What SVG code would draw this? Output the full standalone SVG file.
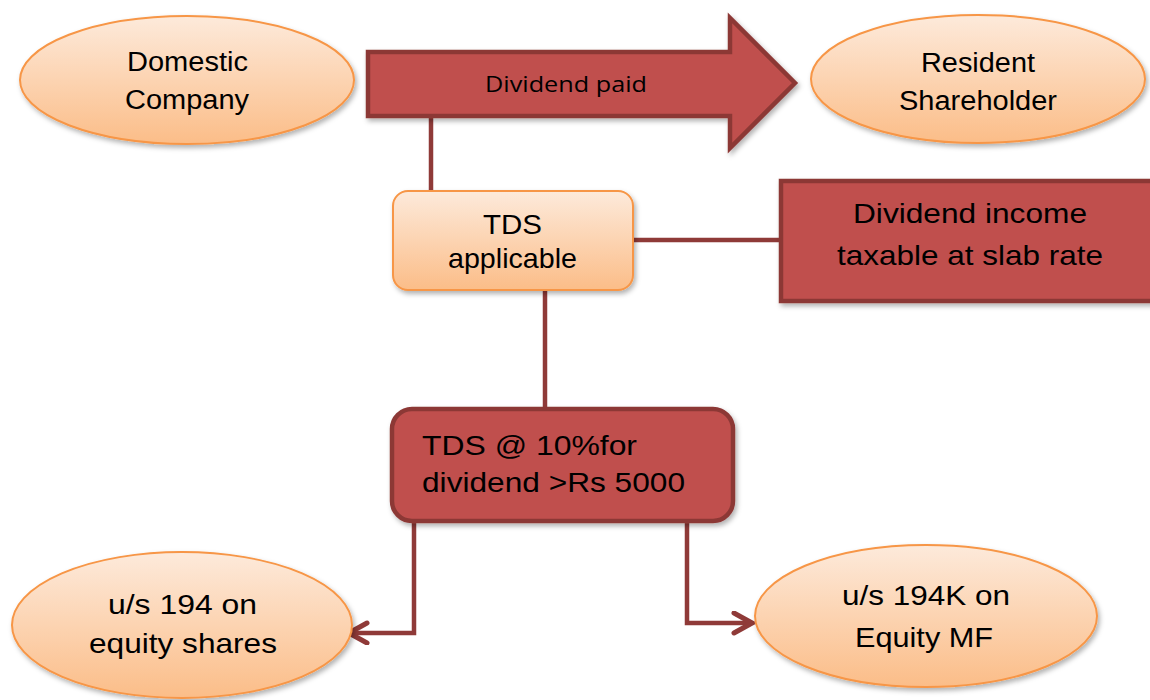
<svg xmlns="http://www.w3.org/2000/svg" width="1150" height="700" viewBox="0 0 1150 700">
<style>
.t{font-family:"Liberation Sans",Arial,sans-serif;fill:#000;text-anchor:middle}
.tl{font-family:"Liberation Sans",Arial,sans-serif;fill:#000}
.peach{fill:url(#gPeach);stroke:#f79646;stroke-width:2}
.red{fill:#c0504d;stroke:#8c3836;stroke-width:4.5}
.con{fill:none;stroke:#8f3a38;stroke-width:4.5}
</style>
<defs>
<linearGradient id="gPeach" x1="0" y1="0" x2="0" y2="1">
<stop offset="0" stop-color="#fdeadb"/>
<stop offset="1" stop-color="#fbbd88"/>
</linearGradient>
<filter id="sh" x="-10%" y="-10%" width="125%" height="130%">
<feDropShadow dx="2" dy="3" stdDeviation="2.5" flood-color="#000" flood-opacity="0.3"/>
</filter>
<marker id="chev" markerUnits="userSpaceOnUse" markerWidth="26" markerHeight="26" viewBox="0 0 26 26" refX="22" refY="12" orient="auto">
<path d="M4,2 L22,12 L4,22" fill="none" stroke="#8f3a38" stroke-width="5" stroke-linecap="round" stroke-linejoin="miter"/>
</marker>
</defs>

<g id="connectors">
<path class="con" d="M431,116 V192"/>
<path class="con" d="M633,240 H782"/>
<path class="con" d="M545,290 V410"/>
<path class="con" d="M414,521 V633 H349" marker-end="url(#chev)"/>
<path class="con" d="M687,521 V623 H752" marker-end="url(#chev)"/>
</g>

<g id="domestic-company">
<ellipse class="peach" cx="187" cy="80" rx="167" ry="64" filter="url(#sh)"/>
<text class="t" x="187.5" y="71" font-size="27" textLength="121" lengthAdjust="spacingAndGlyphs">Domestic</text>
<text class="t" x="187" y="109" font-size="27" textLength="124" lengthAdjust="spacingAndGlyphs">Company</text>
</g>

<g id="dividend-paid">
<path class="red" d="M368,52 H730 V18 L795,83 L730,148 V116 H368 Z" filter="url(#sh)"/>
<text class="t" x="566" y="92" style="font-family:'Open Sans','Noto Sans',sans-serif" font-size="22" textLength="162" lengthAdjust="spacingAndGlyphs">Dividend paid</text>
</g>

<g id="resident-shareholder">
<ellipse class="peach" cx="978" cy="79" rx="167" ry="64" filter="url(#sh)"/>
<text class="t" x="978" y="72" font-size="27" textLength="114" lengthAdjust="spacingAndGlyphs">Resident</text>
<text class="t" x="978" y="110" font-size="27" textLength="158" lengthAdjust="spacingAndGlyphs">Shareholder</text>
</g>

<g id="tds-applicable">
<rect class="peach" x="393" y="191" width="240" height="99" rx="15" filter="url(#sh)"/>
<text class="t" x="512.5" y="234" font-size="28" textLength="59" lengthAdjust="spacingAndGlyphs">TDS</text>
<text class="t" x="512.5" y="268" font-size="28" textLength="129" lengthAdjust="spacingAndGlyphs">applicable</text>
</g>

<g id="dividend-income">
<rect class="red" x="781" y="181" width="380" height="120" filter="url(#sh)"/>
<text class="t" x="970" y="223" font-size="28" textLength="234" lengthAdjust="spacingAndGlyphs">Dividend income</text>
<text class="t" x="970" y="265" font-size="28" textLength="266" lengthAdjust="spacingAndGlyphs">taxable at slab rate</text>
</g>

<g id="tds-10">
<rect class="red" x="392" y="409" width="341" height="112" rx="20" filter="url(#sh)"/>
<text class="tl" x="422" y="455" font-size="28" textLength="215" lengthAdjust="spacingAndGlyphs">TDS @ 10%for</text>
<text class="tl" x="422" y="492" font-size="28" textLength="263" lengthAdjust="spacingAndGlyphs">dividend &gt;Rs 5000</text>
</g>

<g id="us-194">
<ellipse class="peach" cx="182" cy="625" rx="170" ry="73" filter="url(#sh)"/>
<text class="t" x="182.5" y="614" font-size="28" textLength="149" lengthAdjust="spacingAndGlyphs">u/s 194 on</text>
<text class="t" x="183" y="653" font-size="28" textLength="188" lengthAdjust="spacingAndGlyphs">equity shares</text>
</g>

<g id="us-194k">
<ellipse class="peach" cx="926" cy="616" rx="171" ry="71" filter="url(#sh)"/>
<text class="t" x="926" y="605" font-size="28" textLength="168" lengthAdjust="spacingAndGlyphs">u/s 194K on</text>
<text class="t" x="924" y="647" font-size="28" textLength="138" lengthAdjust="spacingAndGlyphs">Equity MF</text>
</g>
</svg>
